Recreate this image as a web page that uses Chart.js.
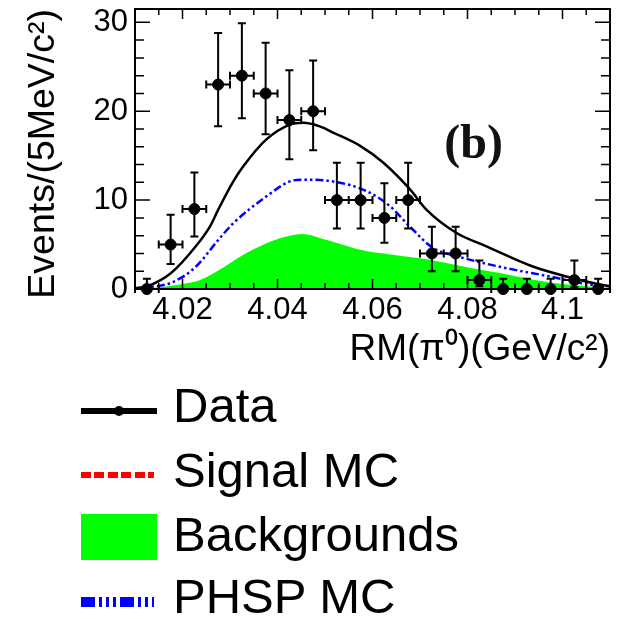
<!DOCTYPE html>
<html lang="en">
<head>
    <meta charset="UTF-8">
    <title>RM(pi0) distribution</title>

    <!-- Chart.js -->
    <script src="https://cdn.jsdelivr.net/npm/chart.js@4.4.1/dist/chart.umd.min.js"></script>
    <style>
        html, body { margin: 0; padding: 0; background: white; }
        body { width: 625px; height: 619px; position: relative; overflow: hidden; font-family: "Liberation Sans", Arial, sans-serif; }
        #chartBox { position: absolute; left: 0; top: 0; width: 625px; height: 380px; }
        .legend-text { position: absolute; left: 173px; font-size: 49px; line-height: 49px; color: black; white-space: nowrap; }
        .sym { position: absolute; }
    </style>
</head>
<body>
    <div id="chartBox"><canvas id="rmChart"></canvas></div>

    <!-- Legend -->
    <div class="sym" style="left:81px; top:408px; width:76px; height:6px; background:black;"></div>
    <div class="sym" style="left:114px; top:406px; width:10px; height:10px; border-radius:50%; background:black;"></div>
    <div class="legend-text" style="top:381px;">Data</div>

    <div class="sym" style="left:81px; top:472px; width:73px; height:6px; background:repeating-linear-gradient(to right, #ff0000 0 10px, transparent 10px 13.5px);"></div>
    <div class="legend-text" style="top:446px;">Signal MC</div>

    <div class="sym" style="left:81px; top:514px; width:76px; height:46px; background:#00ff00;"></div>
    <div class="legend-text" style="top:510px;">Backgrounds</div>

    <div class="sym" style="left:81px; top:597px; width:73px; height:10px; background:repeating-linear-gradient(to right, #0000ff 0 14px, transparent 14px 18px, #0000ff 18px 21px, transparent 21px 25px, #0000ff 25px 28px, transparent 28px 32px, #0000ff 32px 35px, transparent 35px 39px);"></div>
    <div class="legend-text" style="top:572px;">PHSP MC</div>

    <script>
        // Data points (bin centres, 5 MeV bins) and their error bars
        const binCenters = [4.0125, 4.0175, 4.0225, 4.0275, 4.0325, 4.0375, 4.0425, 4.0475, 4.0525, 4.0575,
                            4.0625, 4.0675, 4.0725, 4.0775, 4.0825, 4.0875, 4.0925, 4.0975, 4.1025, 4.1075];
        const counts     = [0, 5, 9, 23, 24, 22, 19, 20, 10, 10, 8, 10, 4, 4, 1, 0, 0, 0, 1, 0];
        const errLow     = [0, 2.8, 5.9, 18.3, 19.2, 17.4, 14.6, 15.6, 6.8, 6.8, 5.2, 6.8, 2.0, 2.0, 0.3, 0, 0, 0, 0.2, 0];
        const errHigh    = [1.15, 8.35, 13.1, 28.8, 29.9, 27.7, 24.6, 25.7, 14.2, 14.2, 11.9, 14.2, 7.0, 7.0, 3.2, 1.15, 1.15, 1.15, 3.2, 1.15];
        const binHalfWidth = 0.0025;

        // Total fit (black solid)
        const totalX = [4.010, 4.0125, 4.0176, 4.0228, 4.0258, 4.0275, 4.0307, 4.0328, 4.0376, 4.0426, 4.0454, 4.0489,
                        4.0517, 4.0574, 4.0623, 4.0679, 4.0714, 4.0777, 4.0840, 4.0939, 4.1016, 4.1079, 4.110];
        const totalY = [0.1, 0.3, 1.8, 4.8, 7.05, 8.9, 12.1, 13.8, 16.8, 18.5, 18.7, 18.3,
                        17.6, 16.1, 14.2, 11.2, 8.9, 6.3, 4.8, 2.5, 1.3, 0.5, 0.3];

        // PHSP MC (blue dash-dot-dot)
        const phspX = [4.010, 4.0125, 4.0176, 4.0228, 4.0275, 4.0307, 4.0376, 4.0426, 4.0454, 4.0517, 4.0588,
                       4.0637, 4.0679, 4.0728, 4.0777, 4.0868, 4.0974, 4.1058, 4.110];
        const phspY = [0.05, 0.2, 0.7, 2.5, 5.5, 7.4, 10.4, 12.1, 12.3, 12.1, 11.0,
                       9.3, 7.0, 4.6, 3.7, 2.5, 1.4, 0.5, 0.3];

        // Backgrounds (green filled)
        const bkgX = [4.010, 4.0153, 4.0200, 4.0237, 4.0270, 4.0300, 4.0330, 4.0363, 4.0405, 4.0451, 4.0504, 4.0560,
                      4.0588, 4.0630, 4.0700, 4.0728, 4.0798, 4.0868, 4.0939, 4.1009, 4.1079, 4.110];
        const bkgY = [0.05, 0.2, 0.55, 1.0, 1.9, 2.9, 3.9, 4.8, 5.7, 6.2, 5.5, 4.6,
                      4.25, 3.95, 3.45, 3.2, 2.45, 1.8, 1.05, 0.5, 0.2, 0.15];

        // Axis ticks
        const xTickValues = [4.02, 4.04, 4.06, 4.08, 4.10];
        const xTickLabels = ['4.02', '4.04', '4.06', '4.08', '4.1'];
        const yTickValues = [0, 10, 20, 30];
        const yTickLabels = ['0', '10', '20', '30'];

        const toPoints = (xs, ys) => xs.map((x, i) => ({ x: x, y: ys[i] }));
        const FONT = "'Liberation Sans', Arial, sans-serif";

        // Frame, inside ticks and error bars, drawn just before the data markers
        const framePlugin = {
            id: 'frame',
            beforeDatasetDraw(chart, args) {
                if (args.index !== 0) return;
                const ctx = chart.ctx;
                const a = chart.chartArea;
                const xs = chart.scales.x;
                const ys = chart.scales.y;
                ctx.save();
                ctx.strokeStyle = 'black';
                ctx.lineCap = 'butt';

                // ticks
                ctx.lineWidth = 1.5;
                ctx.beginPath();
                for (let v = 4.010; v <= 4.1101; v += 0.005) {
                    const px = xs.getPixelForValue(v);
                    const major = Math.abs(Math.round(v * 100) / 100 - v) < 1e-6 && Math.round(v * 100) % 2 === 0;
                    const len = major ? 10 : 6;
                    ctx.moveTo(px, a.bottom); ctx.lineTo(px, a.bottom - len);
                    ctx.moveTo(px, a.top); ctx.lineTo(px, a.top + len);
                }
                for (let v = 0; v <= 31; v += 2) {
                    const py = ys.getPixelForValue(v);
                    const len = v % 10 === 0 ? 15 : 9;
                    ctx.moveTo(a.left, py); ctx.lineTo(a.left + len, py);
                    ctx.moveTo(a.right, py); ctx.lineTo(a.right - len, py);
                }
                ctx.stroke();

                // frame
                ctx.lineWidth = 2;
                ctx.strokeRect(a.left, a.top, a.right - a.left, a.bottom - a.top);

                // error bars
                ctx.lineWidth = 2;
                ctx.beginPath();
                binCenters.forEach((c, i) => {
                    const px = xs.getPixelForValue(c);
                    const py = ys.getPixelForValue(counts[i]);
                    const x1 = xs.getPixelForValue(c - binHalfWidth);
                    const x2 = xs.getPixelForValue(c + binHalfWidth);
                    const yLo = ys.getPixelForValue(errLow[i]);
                    const yHi = ys.getPixelForValue(errHigh[i]);
                    ctx.moveTo(x1, py); ctx.lineTo(x2, py);
                    ctx.moveTo(x1, py - 4); ctx.lineTo(x1, py + 4);
                    ctx.moveTo(x2, py - 4); ctx.lineTo(x2, py + 4);
                    ctx.moveTo(px, yLo); ctx.lineTo(px, yHi);
                    ctx.moveTo(px - 4, yHi); ctx.lineTo(px + 4, yHi);
                    if (counts[i] > 0) { ctx.moveTo(px - 4, yLo); ctx.lineTo(px + 4, yLo); }
                });
                ctx.stroke();

                // panel label
                ctx.fillStyle = '#111';
                ctx.font = "bold 48px 'Liberation Serif', 'Times New Roman', serif";
                ctx.textAlign = 'center';
                ctx.textBaseline = 'alphabetic';
                ctx.fillText('(b)', xs.getPixelForValue(4.0813), ys.getPixelForValue(14.7));
                ctx.restore();
            }
        };

        const ctx = document.getElementById('rmChart').getContext('2d');
        new Chart(ctx, {
            type: 'scatter',
            data: {
                datasets: [
                    {
                        label: 'Data',
                        data: toPoints(binCenters, counts),
                        pointRadius: 5.5,
                        pointHoverRadius: 5.5,
                        pointBackgroundColor: 'black',
                        pointBorderColor: 'black',
                        pointBorderWidth: 1,
                        showLine: false,
                        clip: false
                    },
                    {
                        label: 'Total',
                        data: toPoints(totalX, totalY),
                        showLine: true,
                        borderColor: 'black',
                        borderWidth: 2.5,
                        pointRadius: 0,
                        cubicInterpolationMode: 'monotone'
                    },
                    {
                        label: 'PHSP MC',
                        data: toPoints(phspX, phspY),
                        showLine: true,
                        borderColor: '#0000ff',
                        borderWidth: 2.5,
                        borderDash: [8, 3, 2.5, 3, 2.5, 3],
                        pointRadius: 0,
                        cubicInterpolationMode: 'monotone'
                    },
                    {
                        label: 'Backgrounds',
                        data: toPoints(bkgX, bkgY),
                        showLine: true,
                        borderColor: 'rgba(0,0,0,0)',
                        borderWidth: 0,
                        backgroundColor: '#00ff00',
                        fill: 'origin',
                        pointRadius: 0,
                        cubicInterpolationMode: 'monotone'
                    }
                ]
            },
            options: {
                responsive: true,
                maintainAspectRatio: false,
                animation: false,
                layout: { padding: { left: 0, top: 9, right: 15, bottom: 8 } },
                plugins: {
                    legend: { display: false },
                    tooltip: { enabled: false }
                },
                scales: {
                    x: {
                        type: 'linear',
                        min: 4.01,
                        max: 4.11,
                        grid: { display: false, drawTicks: false },
                        border: { display: false },
                        afterBuildTicks: s => { s.ticks = xTickValues.map(v => ({ value: v })); },
                        afterFit: s => { s.height = 83; s.paddingLeft = 0; s.paddingRight = 0; },
                        ticks: {
                            color: 'black',
                            padding: 3,
                            maxRotation: 0,
                            autoSkip: false,
                            font: { family: FONT, size: 31 },
                            callback: (v, i) => xTickLabels[i]
                        },
                        title: {
                            display: true,
                            text: 'RM(π⁰)(GeV/c²)',
                            align: 'end',
                            color: 'black',
                            padding: { top: 0, bottom: 0 },
                            font: { family: FONT, size: 37 }
                        }
                    },
                    y: {
                        min: 0,
                        max: 31.5,
                        grid: { display: false, drawTicks: false },
                        border: { display: false },
                        afterBuildTicks: s => { s.ticks = yTickValues.map(v => ({ value: v })); },
                        afterFit: s => { s.width = 135; s.paddingTop = 0; s.paddingBottom = 0; },
                        ticks: {
                            color: 'black',
                            padding: 7,
                            font: { family: FONT, size: 31 },
                            callback: (v, i) => yTickLabels[i]
                        },
                        title: {
                            display: true,
                            text: 'Events/(5MeV/c²)',
                            align: 'end',
                            color: 'black',
                            padding: { top: 21, bottom: 0 },
                            font: { family: FONT, size: 37.5 }
                        }
                    }
                }
            },
            plugins: [framePlugin]
        });
    </script>
</body>
</html>
